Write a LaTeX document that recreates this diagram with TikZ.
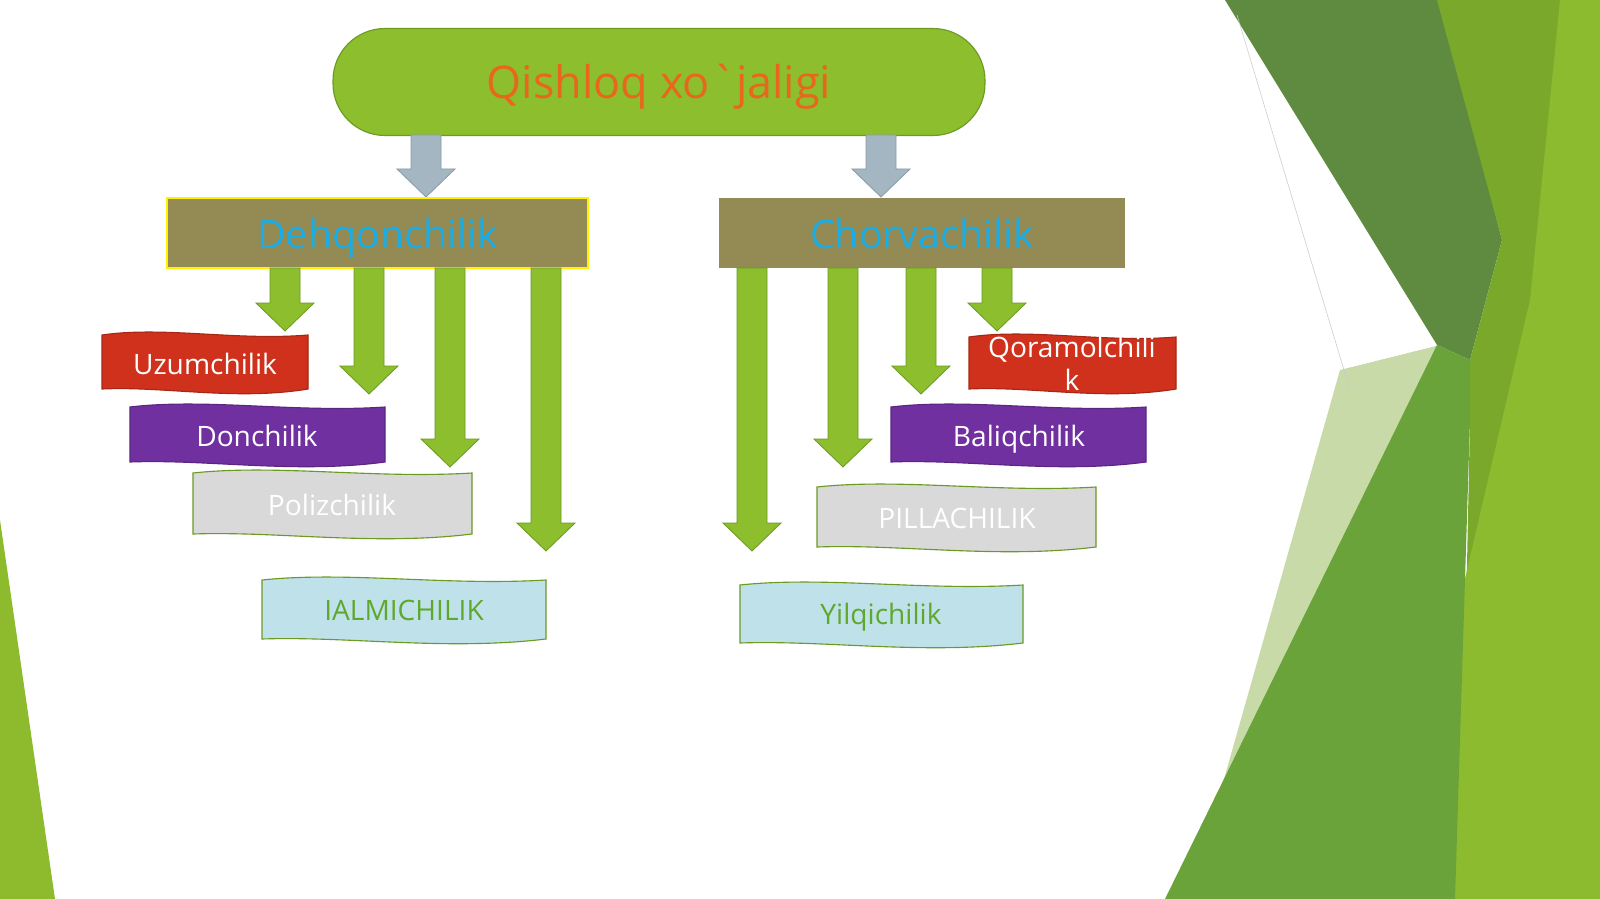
\documentclass[tikz,border=0pt]{standalone}
\usepackage{fontspec}
\setmainfont{Open Sans}
\newfontfamily\rawf{Open Sans}
\begin{document}
\begin{tikzpicture}[x=0.25mm,y=-0.25mm,
  garrow/.style={fill=gA, draw=gB, line width=0.6pt},
  barrow/.style={fill=bA, draw=bB, line width=0.6pt},
  lbl/.style={font=\fontsize{20}{22}\selectfont, text=white, inner sep=0pt, anchor=base},
  box/.style={fill=boxC, minimum width=#1, minimum height=70*0.25mm, inner sep=0pt}]
\definecolor{gA}{HTML}{8DBE2E}\definecolor{gB}{HTML}{6C9A22}
\definecolor{bA}{HTML}{A3B6C2}\definecolor{bB}{HTML}{8A9CA8}
\definecolor{boxC}{HTML}{948A54}\definecolor{cyanT}{HTML}{1CADE4}
\definecolor{redB}{HTML}{D0311C}\definecolor{purB}{HTML}{7030A0}
\definecolor{grayB}{HTML}{D9D9D9}\definecolor{bluB}{HTML}{BFE2EA}
\definecolor{greenT}{HTML}{5FA82E}
\tikzset{btxt/.style={font=\fontsize{28}{30}\selectfont, text=cyanT, anchor=base, inner sep=0pt}}
\useasboundingbox (0,0) rectangle (1600,899);
\fill[white] (0,0) rectangle (1600,899);
% background decoration
\fill[fill={rgb,255:red,141;green,187;blue,45}] (0,520) -- (55,899) -- (0,899) -- cycle;
\fill[fill={rgb,255:red,200;green,218;blue,168}] (1190,899) -- (1340,370) -- (1440,345) -- (1300,899) -- cycle;
\fill[fill={rgb,255:red,94;green,139;blue,63}] (1225,0) -- (1440,0) -- (1502,240) -- (1470,360) -- (1437,345) -- cycle;
\fill[fill={rgb,255:red,122;green,168;blue,43}] (1437,0) -- (1600,0) -- (1600,899) -- (1460,899) -- (1470,420) -- (1470,360) -- (1502,240) -- cycle;
\fill[fill={rgb,255:red,141;green,187;blue,48}] (1560,0) -- (1600,0) -- (1600,899) -- (1360,899) -- (1460,600) -- (1530,300) -- cycle;
\fill[fill={rgb,255:red,106;green,163;blue,58}] (1165,899) -- (1437,345) -- (1470,360) -- (1470,420) -- (1455,899) -- cycle;
\draw[gray!40, line width=0.4pt] (1237,15) -- (1350,390);
% title
\node[draw=gB, fill=gA, rounded corners=52*0.25mm, minimum width=652*0.25mm, minimum height=107*0.25mm, line width=0.8pt] (top) at (659,82) {};
\node[font=\fontsize{32}{34}\selectfont, text={rgb,255:red,232;green,103;blue,28}, anchor=base, inner sep=0pt] (title) at (659,99) {Qishloq xo{\rawf `}jaligi};
% arrows
\newcommand\darr[4]{\path[#4] (#1-15,#2) -- (#1+15,#2) -- (#1+15,#3-28) -- (#1+29,#3-28) -- (#1,#3) -- (#1-29,#3-28) -- (#1-15,#3-28) -- cycle;}
\darr{426}{135}{197}{barrow}
\darr{881}{135}{197}{barrow}
% boxes
\node[box=421*0.25mm, draw=yellow, line width=0.8pt] (deh) at (377.5,233) {};
\node[box=406*0.25mm] (chor) at (922,233) {};
\node[btxt] (dehT) at (377.5,248) {Dehqonchilik};
\node[btxt] (chorT) at (922,248) {Chorvachilik};
\darr{285}{268}{331}{garrow}
\darr{369}{268}{394}{garrow}
\darr{450}{268}{467}{garrow}
\darr{546}{268}{551}{garrow}
\darr{752}{268}{551}{garrow}
\darr{843}{268}{467}{garrow}
\darr{921}{268}{394}{garrow}
\darr{997}{268}{331}{garrow}
% banners: x y w h fill border
\newcommand\banner[6]{\path[fill=#5, draw=#6, line width=0.8pt]
  (#1,#2+3) .. controls ({#1+#3*0.3},#2-6) and ({#1+#3*0.65},#2+9) .. ({#1+#3},#2+3)
  -- ({#1+#3},#2+#4-3) .. controls ({#1+#3*0.65},#2+#4+9) and ({#1+#3*0.3},#2+#4-6) .. (#1,#2+#4-3) -- cycle;}
\banner{102}{332}{206}{60}{redB}{redB!80!black}
\banner{130}{404}{255}{61}{purB}{purB!80!black}
\banner{193}{470}{279}{67}{grayB}{gB}
\banner{262}{577}{284}{65}{bluB}{gB}
\banner{969}{334}{207}{58}{redB}{redB!80!black}
\banner{891}{404}{255}{61}{purB}{purB!80!black}
\banner{817}{484}{279}{66}{grayB}{gB}
\banner{740}{582}{283}{64}{bluB}{gB}
\node[lbl] (uz) at (205,374) {Uzumchilik};
\node[lbl] (don) at (257,446) {Donchilik};
\node[lbl] (pol) at (332,515) {Polizchilik};
\node[lbl, text=greenT] (lalm) at (404,620) {IALMICHILIK};
\node[lbl] (qor1) at (1072,357) {Qoramolchili};
\node[lbl] (qor2) at (1072,390) {k};
\node[lbl] (bal) at (1019,446) {Baliqchilik};
\node[lbl] (pil) at (957,528) {PILLACHILIK};
\node[lbl, text=greenT] (yil) at (881,624) {Yilqichilik};
\end{tikzpicture}
\end{document}
